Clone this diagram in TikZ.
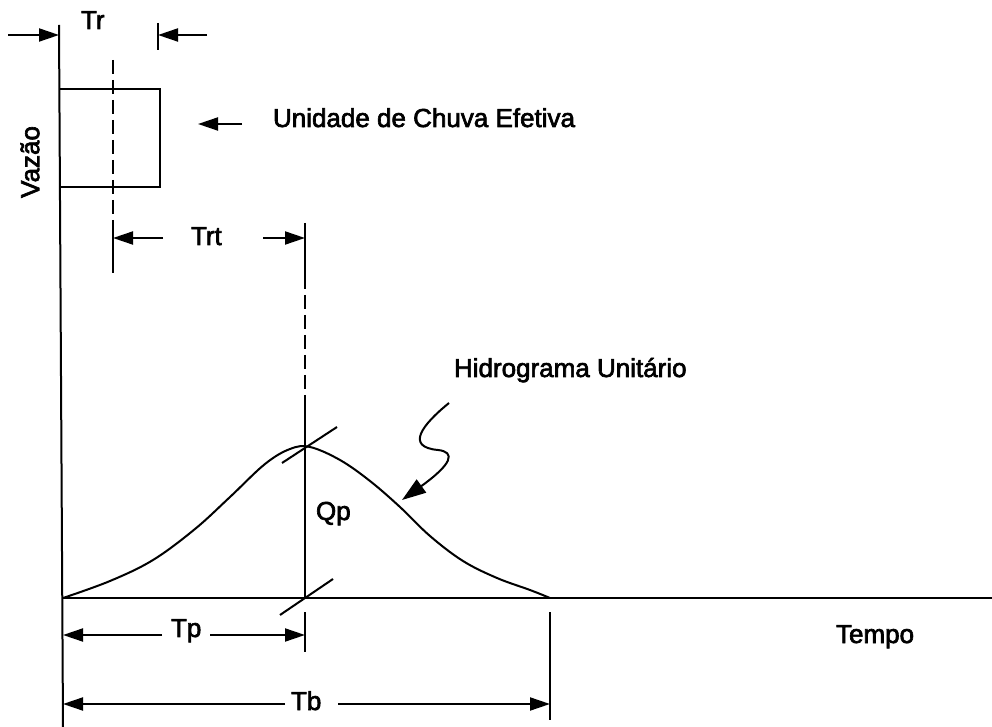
\documentclass[tikz,border=0pt]{standalone}
\usepackage{fontspec}
\setmainfont{Liberation Sans}
\newfontfamily\lblfont[FakeBold=2.5]{Liberation Sans}
\usetikzlibrary{arrows.meta}
\begin{document}
\begin{tikzpicture}[x=0.5pt,y=-0.5pt, line width=1pt,
  lbl/.style={inner sep=0pt, anchor=base west, font=\lblfont\fontsize{13}{15}\selectfont},
  dim/.style={-{Triangle[length=10pt,width=6.5pt]}},
  dashln/.style={dash pattern=on 7pt off 3pt}]
\useasboundingbox (0,0) rectangle (992,727);
% labels
\node[lbl] (tr) at (80,29) {Tr};
\node[lbl] (trt) at (190,245) {Trt};
\node[lbl] (unid) at (272,127) {Unidade de Chuva Efetiva};
\node[lbl] (hidro) at (453,377) {Hidrograma Unitário};
\node[lbl] (qp) at (315,520) {Qp};
\node[lbl] (tp) at (170,637) {Tp};
\node[lbl] (tb) at (290,710) {Tb};
\node[lbl] (tempo) at (835,643) {Tempo};
\node[inner sep=0pt, rotate=90, font=\lblfont\fontsize{13}{15}\selectfont] (vazao) at (30,162) {Vazão};
% coordinates
\coordinate (axT) at (59,25);
\coordinate (axB) at (63,727);
\coordinate (org) at (63,598);
\coordinate (xend) at (992,598);
\coordinate (pk) at (305,223);
\coordinate (pkB) at (305,598);
% axes
\draw (axT) -- (axB);
\draw (org) -- (xend);
% rain block
\draw (60,89) -| (160,187) -- (60,187);
% Tr dimension
\draw[dim] (8,35) -- (59,35);
\draw (158,23) -- (158,50);
\draw[dim] (207,35) -- (158,35);
% centroid line
\draw[dashln] (113,60) -- (113,215);
\draw (113,220) -- (113,273);
% Trt dimension
\draw[dim] (163,238) -- (113,238);
\draw[dim] (263,238) -- (305,238);
% peak line
\draw (pk) -- (305,275);
\draw[dashln] (305,275) -- (305,400);
\draw (305,400) -- (pkB);
% unidade arrow
\draw[dim] (242,124) -- (198,124);
% tick marks
\draw (282,463) -- (337,427);
\draw (280,615) -- (333,579);
% hydrograph
\draw[line join=round] plot[smooth, tension=0.6] coordinates {(63,598) (110,581) (153,560) (195,529) (230,497) (265,464) (290,449) (310,447) (340,460) (370,481) (400,507) (430,536) (463,561) (497,578) (530,590) (550,598)};
% wavy arrow
\draw[-{Triangle[length=12pt,width=8pt]}] (449,403) .. controls (422,425) and (405,447) .. (438,450) .. controls (456,452) and (452,464) .. (402,500);
% Tp dimension
\draw (305,612) -- (305,652);
\draw[dim] (162,635) -- (63,635);
\draw[dim] (210,635) -- (305,635);
% Tb dimension
\draw (550,612) -- (550,720);
\draw[dim] (285,704) -- (63,704);
\draw[dim] (338,704) -- (550,704);
\end{tikzpicture}
\end{document}
